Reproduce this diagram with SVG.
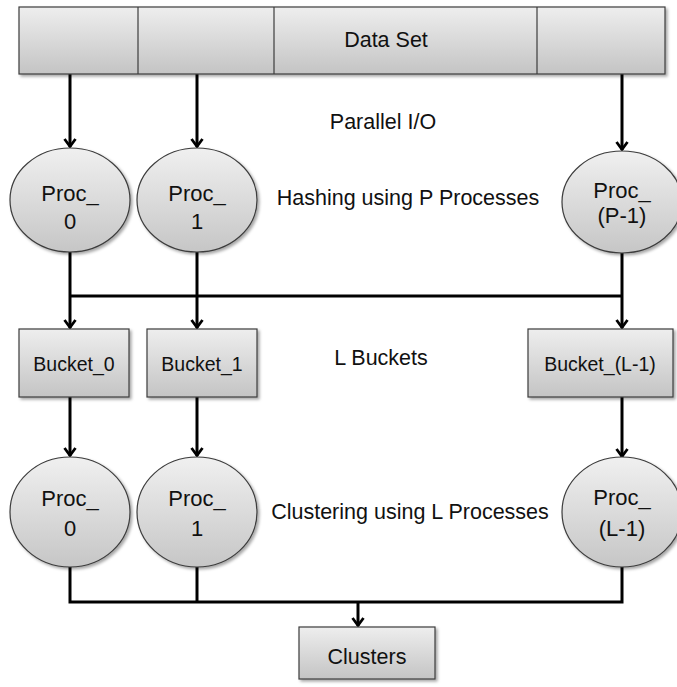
<svg xmlns="http://www.w3.org/2000/svg" width="677" height="687" viewBox="0 0 677 687">
<defs>
<linearGradient id="gbox" x1="0" y1="0" x2="0" y2="1">
<stop offset="0" stop-color="#eeeeee"/>
<stop offset="1" stop-color="#c4c4c4"/>
</linearGradient>
<linearGradient id="gcirc" x1="0" y1="0" x2="0" y2="1">
<stop offset="0" stop-color="#f0f0f0"/>
<stop offset="1" stop-color="#c6c6c6"/>
</linearGradient>
<filter id="sh" x="-10%" y="-10%" width="130%" height="130%">
<feDropShadow dx="2" dy="2" stdDeviation="1.5" flood-color="#000" flood-opacity="0.35"/>
</filter>
<marker id="arr" viewBox="0 0 16 16" refX="14" refY="8" markerWidth="16" markerHeight="16" markerUnits="userSpaceOnUse" orient="auto" overflow="visible">
<path d="M6,2.5 L13.5,8 L6,13.5" fill="none" stroke="#000" stroke-width="2.8" stroke-linejoin="miter"/>
</marker>
</defs>
<style>
.box{fill:url(#gbox);stroke:#3c3c3c;stroke-width:1.2;filter:url(#sh)}
.circ{fill:url(#gcirc);stroke:#3c3c3c;stroke-width:1.2;filter:url(#sh)}
.div{stroke:#3c3c3c;stroke-width:1.2}
.t{font-family:"Liberation Sans",Arial,sans-serif;fill:#111;text-anchor:middle;dominant-baseline:central}
.lbl{font-size:21.5px}
.pt{font-size:22px}
.bt{font-size:19.5px}
.c{fill:none;stroke:#000;stroke-width:3}
.ca{fill:none;stroke:#000;stroke-width:3;marker-end:url(#arr)}
</style>

<g id="connectors">
<line class="ca" x1="70" y1="74" x2="70" y2="147"/>
<line class="ca" x1="197" y1="74" x2="197" y2="147"/>
<line class="ca" x1="622" y1="74" x2="622" y2="150"/>
<line class="ca" x1="70" y1="252" x2="70" y2="328"/>
<line class="ca" x1="197" y1="252" x2="197" y2="328"/>
<line class="ca" x1="622" y1="253" x2="622" y2="328"/>
<line class="c" x1="70" y1="296" x2="622" y2="296"/>
<line class="ca" x1="70" y1="397" x2="70" y2="456"/>
<line class="ca" x1="197" y1="397" x2="197" y2="456"/>
<line class="ca" x1="622" y1="397" x2="622" y2="457"/>
<polyline class="c" points="70,567 70,602 622,602 622,567"/>
<line class="c" x1="197" y1="567" x2="197" y2="602"/>
<line class="ca" x1="358" y1="602" x2="358" y2="626"/>
</g>

<g id="dataset">
<rect class="box" x="19" y="7" width="646" height="67"/>
<line class="div" x1="138" y1="7" x2="138" y2="74"/>
<line class="div" x1="274" y1="7" x2="274" y2="74"/>
<line class="div" x1="537" y1="7" x2="537" y2="74"/>
<text class="t lbl" x="386" y="40">Data Set</text>
</g>

<g id="label-parallel-io"><text class="t lbl" x="383" y="122">Parallel I/O</text></g>
<g id="label-hashing"><text class="t lbl" x="408" y="198">Hashing using P Processes</text></g>
<g id="label-buckets"><text class="t lbl" x="381" y="358">L Buckets</text></g>
<g id="label-clustering"><text class="t lbl" x="410" y="512">Clustering using L Processes</text></g>

<g id="hproc0">
<ellipse class="circ" cx="70" cy="200" rx="60" ry="52"/>
<text class="t pt" x="70" y="193">Proc_</text>
<text class="t pt" x="70" y="221">0</text>
</g>
<g id="hproc1">
<ellipse class="circ" cx="197" cy="200" rx="60" ry="52"/>
<text class="t pt" x="197" y="193">Proc_</text>
<text class="t pt" x="197" y="221">1</text>
</g>
<g id="hprocP">
<ellipse class="circ" cx="622" cy="202" rx="60" ry="51"/>
<text class="t pt" x="622" y="190">Proc_</text>
<text class="t pt" x="622" y="215">(P-1)</text>
</g>

<g id="bucket0">
<rect class="box" x="19" y="329" width="110" height="68"/>
<text class="t bt" x="74" y="364">Bucket_0</text>
</g>
<g id="bucket1">
<rect class="box" x="147" y="329" width="110" height="68"/>
<text class="t bt" x="202" y="364">Bucket_1</text>
</g>
<g id="bucketL">
<rect class="box" x="528" y="329" width="145" height="68"/>
<text class="t bt" x="600" y="364">Bucket_(L-1)</text>
</g>

<g id="cproc0">
<ellipse class="circ" cx="70" cy="512" rx="60" ry="55"/>
<text class="t pt" x="70" y="498">Proc_</text>
<text class="t pt" x="70" y="528">0</text>
</g>
<g id="cproc1">
<ellipse class="circ" cx="197" cy="512" rx="60" ry="55"/>
<text class="t pt" x="197" y="498">Proc_</text>
<text class="t pt" x="197" y="528">1</text>
</g>
<g id="cprocL">
<ellipse class="circ" cx="622" cy="512" rx="60" ry="55"/>
<text class="t pt" x="622" y="497">Proc_</text>
<text class="t pt" x="622" y="528">(L-1)</text>
</g>

<g id="clusters">
<rect class="box" x="299" y="627" width="136" height="52"/>
<text class="t lbl" x="367" y="657">Clusters</text>
</g>
</svg>
